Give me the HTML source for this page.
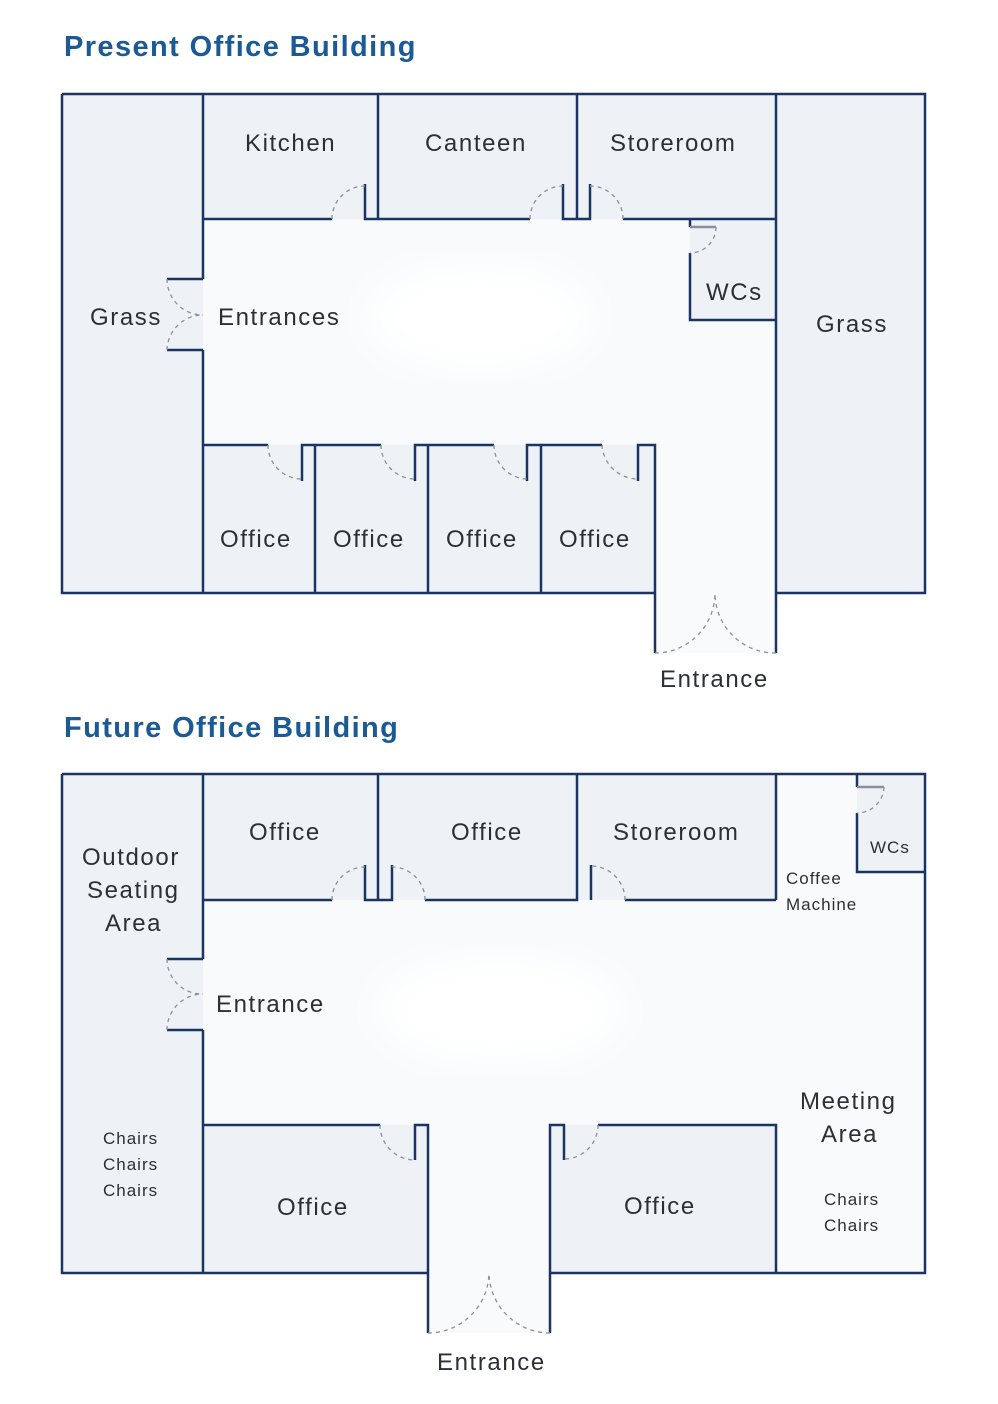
<!DOCTYPE html>
<html><head><meta charset="utf-8"><style>
html,body{margin:0;padding:0;background:#fff;}
svg{display:block;}
text{font-family:"Liberation Sans",sans-serif;fill:#2b2f36;}
.t{font-weight:bold;fill:#1b5a94;font-size:29px;letter-spacing:1.4px;}
.l{font-size:24px;letter-spacing:1.6px;}
.s{font-size:17px;letter-spacing:1px;}
.w{stroke:#1a3464;stroke-width:2.5;fill:none;}
.d{stroke:#8a9099;stroke-width:1.3;stroke-dasharray:4 4;fill:none;}
.g{stroke:#8a9099;stroke-width:2.5;}
</style></head><body>
<svg width="998" height="1404" viewBox="0 0 998 1404" xmlns="http://www.w3.org/2000/svg">
<defs><filter id="b"><feGaussianBlur stdDeviation="18"/></filter></defs>
<rect width="998" height="1404" fill="#fff"/>
<text class="t" x="64" y="56">Present Office Building</text>
<text class="t" x="64" y="737">Future Office Building</text>

<rect x="62" y="94" width="863" height="499" fill="#eef1f5"/>
<rect x="203" y="219" width="573" height="226" fill="#f8fafc"/>
<rect x="655" y="219" width="121" height="434" fill="#f8fafc"/>
<rect x="690" y="219" width="86" height="101" fill="#eef1f5"/>
<ellipse cx="480" cy="318" rx="115" ry="55" fill="#fff" filter="url(#b)"/>
<path class="w" d="M62 94H925V593H776V653 M655 653V593H62V94 M203 94V279 M203 350V593 M167 279H203 M167 350H203
M378 94V219 M577 94V219 M776 94V593
M203 219H332 M365 184V219H530 M563 184V219H577V184 M577 219H590V184 M623 219H776
M690 219V227 M690 253V320H776
M203 445H268 M302 481V445H381 M315 445V593 M415 481V445H494 M428 445V593 M527 481V445H602 M541 445V593 M638 481V445H655V593"/>
<path class="g" d="M690 227H716"/>
<path class="d" d="M332 219A33 33 0 0 1 365 186 M530 219A33 33 0 0 1 563 186 M623 219A33 33 0 0 0 590 186
M167 279A36 36 0 0 0 203 315 M167 350A36 36 0 0 1 203 315
M716 227A26 26 0 0 1 690 253
M268 445A34 34 0 0 0 302 479 M381 445A34 34 0 0 0 415 479 M494 445A34 34 0 0 0 527 479 M602 445A36 36 0 0 0 638 479
M655 653A60 60 0 0 0 715 593 M776 653A60 60 0 0 1 715 593"/>
<text class="l" x="245" y="151">Kitchen</text>
<text class="l" x="425" y="151">Canteen</text>
<text class="l" x="610" y="151">Storeroom</text>
<text class="l" x="90" y="325">Grass</text>
<text class="l" x="218" y="325">Entrances</text>
<text class="l" x="706" y="300">WCs</text>
<text class="l" x="816" y="332">Grass</text>
<text class="l" x="220" y="547">Office</text>
<text class="l" x="333" y="547">Office</text>
<text class="l" x="446" y="547">Office</text>
<text class="l" x="559" y="547">Office</text>
<text class="l" x="660" y="687">Entrance</text>

<rect x="62" y="774" width="863" height="499" fill="#eef1f5"/>
<rect x="203" y="900" width="722" height="225" fill="#f8fafc"/>
<rect x="776" y="774" width="149" height="499" fill="#f8fafc"/>
<rect x="428" y="1125" width="122" height="208" fill="#f8fafc"/>
<rect x="857" y="774" width="68" height="98" fill="#eef1f5"/>
<ellipse cx="500" cy="1010" rx="125" ry="55" fill="#fff" filter="url(#b)"/>
<path class="w" d="M62 774H925V1273H776 M550 1333V1273 M428 1333V1273H62V774
M203 774V959 M203 1030V1273 M167 959H203 M167 1030H203
M378 774V900 M577 774V900 M776 774V900
M203 900H332 M365 865V900H392V865 M378 900V865 M425 900H577V865 M591 865V900 M625 900H776
M857 774V787 M857 813V872H925
M203 1125H380 M415 1160V1125H428V1333 M550 1333V1125H564V1160 M598 1125H776V1273H550"/>
<path class="g" d="M857 787H884"/>
<path class="d" d="M332 900A33 33 0 0 1 365 867 M425 900A33 33 0 0 0 392 867 M625 900A34 34 0 0 0 591 866
M167 959A35 35 0 0 0 203 994 M167 1030A36 36 0 0 1 203 994
M884 787A27 27 0 0 1 857 813
M380 1125A35 35 0 0 0 415 1160 M598 1125A34 34 0 0 1 564 1159
M428 1333A61 61 0 0 0 489 1272 M550 1333A61 61 0 0 1 489 1272"/>
<text class="l" x="249" y="840">Office</text>
<text class="l" x="451" y="840">Office</text>
<text class="l" x="613" y="840">Storeroom</text>
<text class="l" x="82" y="865">Outdoor</text>
<text class="l" x="87" y="898">Seating</text>
<text class="l" x="105" y="931">Area</text>
<text class="l" x="216" y="1012">Entrance</text>
<text class="s" x="870" y="853">WCs</text>
<text class="s" x="786" y="884">Coffee</text>
<text class="s" x="786" y="910">Machine</text>
<text class="l" x="800" y="1109">Meeting</text>
<text class="l" x="821" y="1142">Area</text>
<text class="s" x="824" y="1205">Chairs</text>
<text class="s" x="824" y="1231">Chairs</text>
<text class="s" x="103" y="1144">Chairs</text>
<text class="s" x="103" y="1170">Chairs</text>
<text class="s" x="103" y="1196">Chairs</text>
<text class="l" x="277" y="1215">Office</text>
<text class="l" x="624" y="1214">Office</text>
<text class="l" x="437" y="1370">Entrance</text>
</svg>
</body></html>
